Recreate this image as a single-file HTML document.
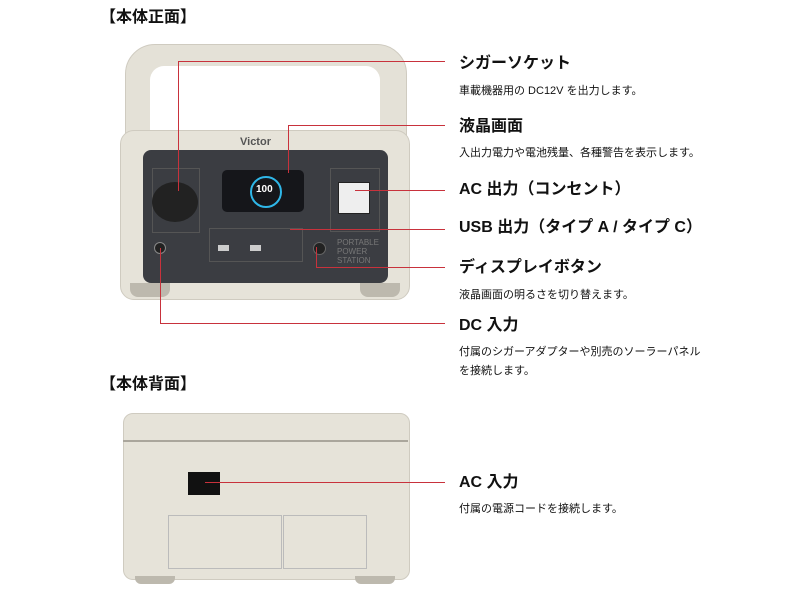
<!DOCTYPE html>
<html><head><meta charset="utf-8"><style>
body{margin:0;width:800px;height:600px;background:#fff;position:relative;overflow:hidden;font-family:"Liberation Sans","Noto Sans CJK JP",sans-serif;color:#111}
.a{position:absolute}
.h{position:absolute;left:459px;font-size:16px;font-weight:bold;white-space:nowrap;line-height:20px}
.d{position:absolute;left:459px;font-size:11px;white-space:nowrap;line-height:14px}
.r{position:absolute;background:#c8323c}
.t{position:absolute;font-size:16px;font-weight:bold;left:100px;line-height:20px}
</style></head><body>
<div class="t" style="top:8px">【本体正面】</div>
<div class="t" style="top:375px">【本体背面】</div>

<div class="a" style="left:125px;top:44px;width:280px;height:110px;border-radius:30px 30px 0 0;background:#e4e1d7;border:1px solid #cfcbc0"></div>
<div class="a" style="left:150px;top:66px;width:230px;height:90px;border-radius:14px 14px 0 0;background:#fff"></div>
<div class="a" style="left:120px;top:130px;width:288px;height:168px;border-radius:14px;background:#e6e3d9;border:1px solid #cfcbc0"></div>
<div class="a" style="left:130px;top:283px;width:40px;height:14px;background:#bdb9ae;border-radius:0 0 8px 8px"></div>
<div class="a" style="left:360px;top:283px;width:40px;height:14px;background:#bdb9ae;border-radius:0 0 8px 8px"></div>
<div class="a" style="left:240px;top:136px;font-size:11px;font-weight:bold;color:#555">Victor</div>
<div class="a" style="left:143px;top:150px;width:245px;height:133px;border-radius:8px;background:#3b3d42"></div>
<div class="a" style="left:152px;top:168px;width:46px;height:63px;border:1px solid #555"></div>
<div class="a" style="left:152px;top:182px;width:46px;height:40px;border-radius:50%;background:#222"></div>
<div class="a" style="left:222px;top:170px;width:82px;height:42px;border-radius:5px;background:#15161a"></div>
<div class="a" style="left:250px;top:176px;width:28px;height:28px;border-radius:50%;border:2px solid #2fb7e8"></div>
<div class="a" style="left:256px;top:184px;font-size:10px;color:#fff;font-weight:bold">100</div>
<div class="a" style="left:330px;top:168px;width:48px;height:62px;border:1px solid #555"></div>
<div class="a" style="left:338px;top:182px;width:30px;height:30px;background:#eee;border:1px solid #222"></div>
<div class="a" style="left:209px;top:228px;width:92px;height:32px;border:1px solid #555"></div>
<div class="a" style="left:218px;top:245px;width:11px;height:6px;background:#ccc"></div>
<div class="a" style="left:250px;top:245px;width:11px;height:6px;background:#ccc"></div>
<div class="a" style="left:313px;top:242px;width:11px;height:11px;border-radius:50%;background:#222;border:1px solid #666"></div>
<div class="a" style="left:154px;top:242px;width:10px;height:10px;border-radius:50%;background:#222;border:1px solid #888"></div>
<div class="a" style="left:337px;top:238px;font-size:8px;color:#777;line-height:9px">PORTABLE<br>POWER<br>STATION</div>

<div class="a" style="left:123px;top:413px;width:285px;height:165px;border-radius:10px;background:#e6e3d9;border:1px solid #cfcbc0"></div>
<div class="a" style="left:123px;top:440px;width:285px;height:2px;background:#aaa69c"></div>
<div class="a" style="left:188px;top:472px;width:32px;height:23px;background:#111"></div>
<div class="a" style="left:168px;top:515px;width:112px;height:52px;border:1px solid #bbb"></div>
<div class="a" style="left:283px;top:515px;width:82px;height:52px;border:1px solid #bbb"></div>
<div class="a" style="left:135px;top:576px;width:40px;height:8px;background:#bdb9ae;border-radius:0 0 6px 6px"></div>
<div class="a" style="left:355px;top:576px;width:40px;height:8px;background:#bdb9ae;border-radius:0 0 6px 6px"></div>

<div class="r" style="left:178px;top:61px;width:267px;height:1px"></div>
<div class="r" style="left:178px;top:61px;width:1px;height:130px"></div>
<div class="r" style="left:288px;top:125px;width:157px;height:1px"></div>
<div class="r" style="left:288px;top:125px;width:1px;height:48px"></div>
<div class="r" style="left:355px;top:190px;width:90px;height:1px"></div>
<div class="r" style="left:290px;top:229px;width:155px;height:1px"></div>
<div class="r" style="left:316px;top:267px;width:129px;height:1px"></div>
<div class="r" style="left:316px;top:247px;width:1px;height:20px"></div>
<div class="r" style="left:160px;top:248px;width:1px;height:76px"></div>
<div class="r" style="left:160px;top:323px;width:285px;height:1px"></div>
<div class="r" style="left:205px;top:482px;width:240px;height:1px"></div>

<div class="h" style="top:54px">シガーソケット</div>
<div class="d" style="top:84px">車載機器用の DC12V を出力します。</div>
<div class="h" style="top:117px">液晶画面</div>
<div class="d" style="top:146px">入出力電力や電池残量、各種警告を表示します。</div>
<div class="h" style="top:180px">AC 出力（コンセント）</div>
<div class="h" style="top:218px">USB 出力（タイプ A / タイプ C）</div>
<div class="h" style="top:258px">ディスプレイボタン</div>
<div class="d" style="top:288px">液晶画面の明るさを切り替えます。</div>
<div class="h" style="top:316px">DC 入力</div>
<div class="d" style="top:345px">付属のシガーアダプターや別売のソーラーパネル</div>
<div class="d" style="top:364px">を接続します。</div>
<div class="h" style="top:473px">AC 入力</div>
<div class="d" style="top:502px">付属の電源コードを接続します。</div>
</body></html>
